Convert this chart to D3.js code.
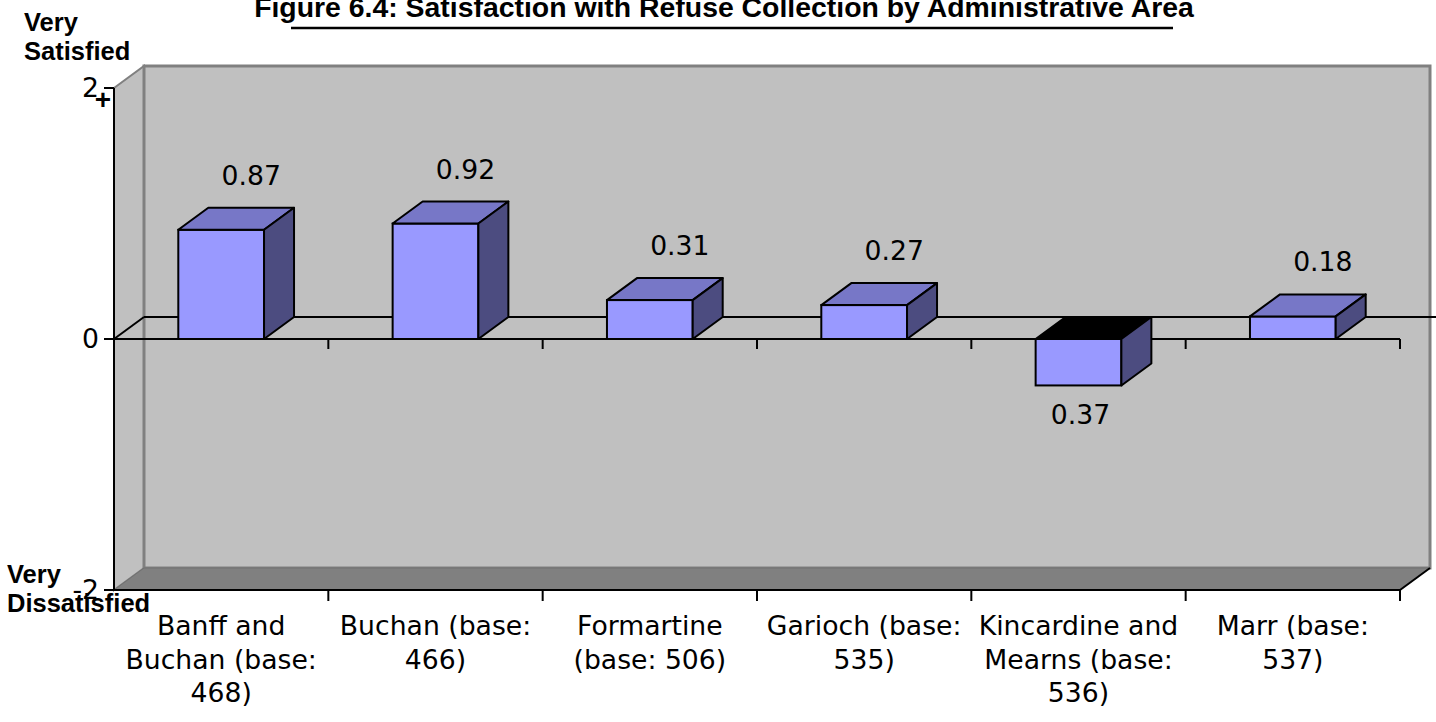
<!DOCTYPE html>
<html>
<head>
<meta charset="utf-8">
<script src="https://cdn.jsdelivr.net/npm/d3@7/dist/d3.min.js"></script>
<style>
  html, body { margin: 0; padding: 0; background: #ffffff; }
  svg { display: block; }
</style>
</head>
<body>
<svg id="chart" width="1436" height="722"></svg>
<script>
// Mean satisfaction score (+2 very satisfied .. -2 very dissatisfied) per area
const categories = [
  "Banff and Buchan (base: 468)",
  "Buchan (base: 466)",
  "Formartine (base: 506)",
  "Garioch (base: 535)",
  "Kincardine and Mearns (base: 536)",
  "Marr (base: 537)"
];
// Wrapped category label lines
const categoryLines = [
  ["Banff and", "Buchan (base:", "468)"],
  ["Buchan (base:", "466)"],
  ["Formartine", "(base: 506)"],
  ["Garioch (base:", "535)"],
  ["Kincardine and", "Mearns (base:", "536)"],
  ["Marr (base:", "537)"]
];
const scores = [0.87, 0.92, 0.31, 0.27, -0.37, 0.18];
const yTicks = [-2, 0, 2];
const titleText = "Figure 6.4: Satisfaction with Refuse Collection by Administrative Area";

const svg = d3.select("#chart");

// Plot frame (front plane) and 3D depth offset
const plotL = 114, plotR = 1400, plotT = 88, plotB = 590;
const depthX = 30, depthY = -22;

const x = d3.scaleBand()
  .domain(categories)
  .range([plotL, plotR])
  .paddingInner(0.6)
  .paddingOuter(0.3);

const y = d3.scaleLinear().domain([-2, 2]).range([plotB, plotT]);

const wallFill = "#c0c0c0", wallEdge = "#808080";
const frontFill = "#9999ff", topFill = "#7777c7", sideFill = "#4c4c80";
const labelFont = "'DejaVu Sans', Verdana, sans-serif";
const boldFont = "'Liberation Sans', Arial, sans-serif";

// Side wall (left)
svg.append("polygon")
  .attr("points", [[plotL, plotT], [plotL + depthX, plotT + depthY], [plotL + depthX, plotB + depthY], [plotL, plotB]].join(" "))
  .attr("fill", wallFill).attr("stroke", wallEdge).attr("stroke-width", 2);

// Back wall
svg.append("rect")
  .attr("x", plotL + depthX).attr("y", plotT + depthY)
  .attr("width", plotR - plotL).attr("height", plotB - plotT)
  .attr("fill", wallFill).attr("stroke", wallEdge).attr("stroke-width", 3);

// Floor
svg.append("polygon")
  .attr("points", [[plotL, plotB], [plotL + depthX, plotB + depthY], [plotR + depthX, plotB + depthY], [plotR, plotB]].join(" "))
  .attr("fill", "#808080").attr("stroke", "#707070").attr("stroke-width", 1);
svg.append("line")
  .attr("x1", plotR).attr("y1", plotB).attr("x2", plotR + depthX).attr("y2", plotB + depthY)
  .attr("stroke", "#000").attr("stroke-width", 2);
svg.append("line")
  .attr("x1", plotL).attr("y1", plotB).attr("x2", plotR).attr("y2", plotB)
  .attr("stroke", "#000").attr("stroke-width", 2);

// Zero plane outline
const y0 = y(0);
svg.append("line")
  .attr("x1", plotL + depthX).attr("y1", y0 + depthY).attr("x2", 1436).attr("y2", y0 + depthY)
  .attr("stroke", "#000").attr("stroke-width", 2);
svg.append("line")
  .attr("x1", plotL).attr("y1", y0).attr("x2", plotL + depthX).attr("y2", y0 + depthY)
  .attr("stroke", "#000").attr("stroke-width", 2);
svg.append("line")
  .attr("x1", plotL).attr("y1", y0).attr("x2", plotR).attr("y2", y0)
  .attr("stroke", "#000").attr("stroke-width", 2);

// Category boundary ticks on the zero line and on the floor edge
const step = x.step();
const boundaries = d3.range(1, categories.length + 1).map(i => plotL + i * step);
svg.append("g").selectAll("line").data(boundaries).join("line")
  .attr("x1", d => d).attr("x2", d => d)
  .attr("y1", y0).attr("y2", y0 + 10)
  .attr("stroke", "#000").attr("stroke-width", 2);
svg.append("g").selectAll("line").data(boundaries).join("line")
  .attr("x1", d => d).attr("x2", d => d)
  .attr("y1", plotB).attr("y2", plotB + 11)
  .attr("stroke", "#000").attr("stroke-width", 2);

// Bars
const bars = svg.append("g").selectAll("g").data(scores).join("g");
bars.each(function (v, i) {
  const g = d3.select(this);
  const x0 = x(categories[i]), w = x.bandwidth();
  const yTop = Math.min(y(v), y0), yBot = Math.max(y(v), y0);
  // front face
  g.append("rect").attr("x", x0).attr("y", yTop).attr("width", w).attr("height", yBot - yTop)
    .attr("fill", frontFill).attr("stroke", "#000").attr("stroke-width", 2);
  // top face
  g.append("polygon")
    .attr("points", [[x0, yTop], [x0 + depthX, yTop + depthY], [x0 + w + depthX, yTop + depthY], [x0 + w, yTop]].join(" "))
    .attr("fill", v < 0 ? "#000" : topFill).attr("stroke", "#000").attr("stroke-width", 2)
    .attr("stroke-linejoin", "round");
  // side face
  g.append("polygon")
    .attr("points", [[x0 + w, yTop], [x0 + w + depthX, yTop + depthY], [x0 + w + depthX, yBot + depthY], [x0 + w, yBot]].join(" "))
    .attr("fill", sideFill).attr("stroke", "#000").attr("stroke-width", 2)
    .attr("stroke-linejoin", "round");
});

// Value labels (magnitude shown)
const fmt = d3.format(".2f");
svg.append("g").selectAll("text").data(scores).join("text")
  .attr("x", (v, i) => x(categories[i]) + x.bandwidth() / 2 + (v < 0 ? 2 : depthX))
  .attr("y", v => v < 0 ? y(v) + 39 : y(v) + depthY - 23)
  .attr("text-anchor", "middle")
  .attr("font-family", labelFont)
  .attr("font-size", 26.67)
  .attr("fill", "#000")
  .text(v => fmt(Math.abs(v)));

// Value axis line and ticks
svg.append("line")
  .attr("x1", plotL).attr("y1", plotT).attr("x2", plotL).attr("y2", plotB)
  .attr("stroke", "#000").attr("stroke-width", 2);
svg.append("g").selectAll("line").data(yTicks).join("line")
  .attr("x1", plotL - 10).attr("x2", plotL)
  .attr("y1", d => y(d)).attr("y2", d => y(d))
  .attr("stroke", "#000").attr("stroke-width", 2);
svg.append("g").selectAll("text").data(yTicks).join("text")
  .attr("x", 99)
  .attr("y", d => y(d) + 9)
  .attr("text-anchor", "end")
  .attr("font-family", labelFont)
  .attr("font-size", 26.67)
  .attr("fill", "#000")
  .text(d => d3.format("d")(d).replace("−", "-"));
svg.append("text")
  .attr("x", 103).attr("y", 109)
  .attr("text-anchor", "middle")
  .attr("font-family", boldFont)
  .attr("font-weight", "bold")
  .attr("font-size", 28)
  .text("+");

// Category labels
const catG = svg.append("g").selectAll("text").data(categoryLines).join("text")
  .attr("text-anchor", "middle")
  .attr("font-family", labelFont)
  .attr("font-size", 26.67)
  .attr("fill", "#000");
catG.each(function (lines, i) {
  const cx = x(categories[i]) + x.bandwidth() / 2;
  d3.select(this).selectAll("tspan").data(lines).join("tspan")
    .attr("x", cx)
    .attr("y", (d, j) => 635 + j * 33.5)
    .text(d => d);
});

// Scale end labels
const endLabel = (lines, lx, ly) => {
  svg.append("text")
    .attr("font-family", boldFont)
    .attr("font-weight", "bold")
    .attr("font-size", 25.5)
    .attr("fill", "#000")
    .selectAll("tspan").data(lines).join("tspan")
    .attr("x", lx).attr("y", (d, j) => ly + j * 29)
    .text(d => d);
};
endLabel(["Very", "Satisfied"], 24, 31);
endLabel(["Very", "Dissatisfied"], 7, 583);

// Title with underline
svg.append("text")
  .attr("x", 724).attr("y", 17)
  .attr("text-anchor", "middle")
  .attr("font-family", boldFont)
  .attr("font-weight", "bold")
  .attr("font-size", 28.4)
  .attr("fill", "#000")
  .text(titleText);
svg.append("line")
  .attr("x1", 291).attr("x2", 1173).attr("y1", 28).attr("y2", 28)
  .attr("stroke", "#000").attr("stroke-width", 2.5);
</script>
</body>
</html>
